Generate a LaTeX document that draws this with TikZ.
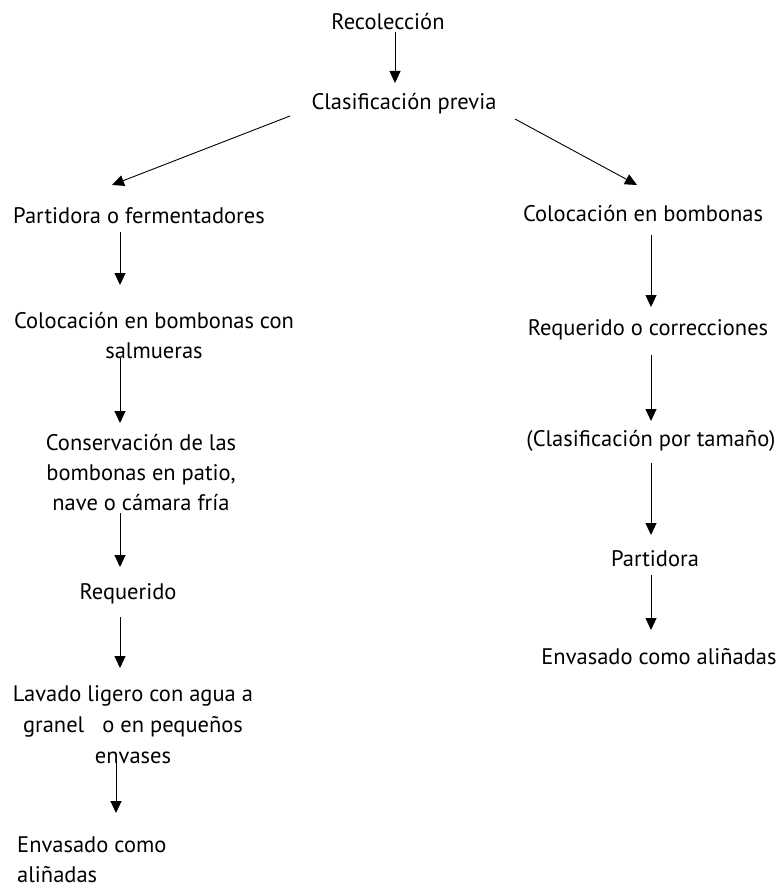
\documentclass[tikz,border=0pt]{standalone}
\usepackage{fontspec}
\setmainfont{PT Sans}
\usetikzlibrary{arrows.meta}
\usetikzlibrary{positioning}

\tikzset{
  paso/.style={inner sep=0pt, align=center, font=\fontsize{22.5}{30}\selectfont},
  flecha/.style={-{Triangle[length=12pt,width=11pt]}, line width=0.9pt},
}

\begin{document}
\begin{tikzpicture}[x=1pt,y=-1pt]
  \useasboundingbox (0,0) rectangle (779,888);
  % columnas de las flechas
  \coordinate (c0) at (395,0);
  \coordinate (c1) at (120,0);
  \coordinate (c2) at (116,0);
  \coordinate (c3) at (651,0);
  % tronco
  \node[paso] (rec) at (388,22) {Recolección};
  \node[paso] (clas) at (404,104) {Clasificación previa};
  % rama izquierda
  \node[paso] (part) at (139,216) {Partidora o fermentadores};
  \node[paso] (colbc) at (154,336) {Colocación en bombonas con\\salmueras};
  \node[paso] (cons) at (141,473) {Conservación de las\\bombonas en patio,\\nave o cámara fría};
  \node[paso] (req) at (128,594) {Requerido};
  \node[paso, font=\fontsize{22.5}{31}\selectfont] (lav) at (133,725) {Lavado ligero con agua a\\granel\ \ \ o en pequeños\\envases};
  \node[paso, anchor=west, align=left] (env) at (17,860) {Envasado como\\aliñadas};
  % rama derecha
  \node[paso] (colb) at (643,214) {Colocación en bombonas};
  \node[paso] (reqc) at (648,330) {Requerido o correcciones};
  \node[paso] (ctam) at (651,441) {(Clasificación por tamaño)};
  \node[paso] (partd) at (655,559) {Partidora};
  \node[paso] (envr) at (659,657) {Envasado como aliñadas};
  % flechas
  \draw[flecha] ([yshift=-10pt]rec.center -| c0) -- ([yshift=21pt]clas.center -| c0);
  \draw[flecha] ([xshift=-114pt,yshift=-12pt]clas.center) -- ([xshift=-27pt,yshift=31pt]part.center);
  \draw[flecha] ([xshift=111pt,yshift=-15pt]clas.center) -- ([xshift=-6pt,yshift=29pt]colb.center);
  \draw[flecha] ([yshift=-16pt]part.center -| c1) -- ([yshift=51pt]colbc.center -| c1);
  \draw[flecha] ([yshift=-22pt]colbc.center -| c1) -- ([yshift=50pt]cons.center -| c1);
  \draw[flecha] ([yshift=-40pt]cons.center -| c1) -- ([yshift=27pt]req.center -| c1);
  \draw[flecha] ([yshift=-23pt]req.center -| c1) -- ([yshift=57pt]lav.center -| c1);
  \draw[flecha] ([yshift=-35pt]lav.center -| c2) -- ([yshift=47pt]env.center -| c2);
  \draw[flecha] ([yshift=-21pt]colb.center -| c3) -- ([yshift=23pt]reqc.center -| c3);
  \draw[flecha] ([yshift=-25pt]reqc.center -| c3) -- ([yshift=20pt]ctam.center -| c3);
  \draw[flecha] ([yshift=-22pt]ctam.center -| c3) -- ([yshift=24pt]partd.center -| c3);
  \draw[flecha] ([yshift=-16pt]partd.center -| c3) -- ([yshift=27pt]envr.center -| c3);
\end{tikzpicture}
\end{document}
